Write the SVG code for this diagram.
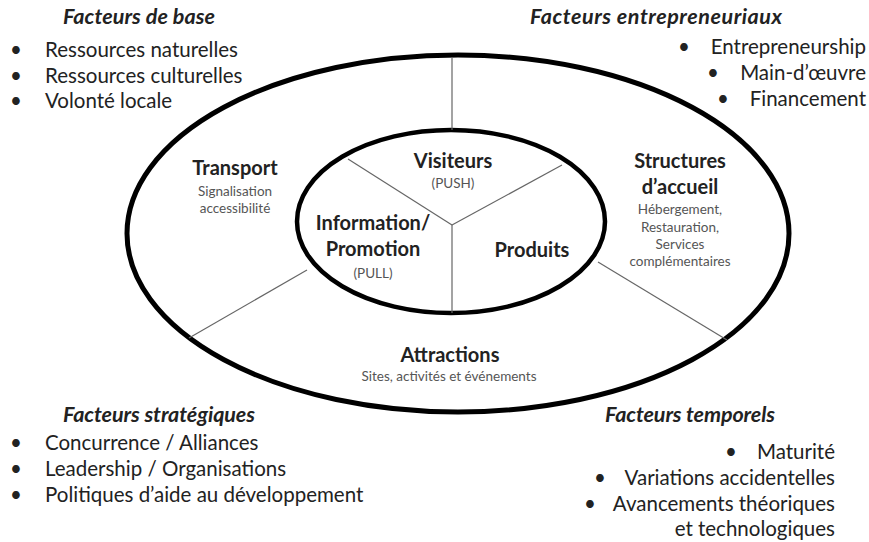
<svg xmlns="http://www.w3.org/2000/svg" width="869" height="542" viewBox="0 0 869 542">
<style>
text{font-family:Lato,"Open Sans","Liberation Sans",sans-serif;fill:#222}
.ttl{font-weight:bold;font-style:italic;font-size:21.5px}
.li{font-size:20.5px}
.nb{font-weight:bold;font-size:20px;text-anchor:middle}
.sm{font-size:13.5px;fill:#555;text-anchor:middle}
.ring{fill:none;stroke:#000}
.sep{stroke:#666;stroke-width:1.2;fill:none}
</style>
<rect width="869" height="542" fill="#fff"/>
<g id="rings">
<ellipse class="ring" cx="458" cy="233.5" rx="331" ry="178.5" stroke-width="5"/>
<ellipse class="ring" cx="451" cy="221.5" rx="154" ry="91.5" stroke-width="4.5"/>
</g>
<g id="connectors">
<line class="sep" x1="452" y1="57" x2="452" y2="130"/>
<line class="sep" x1="452" y1="225" x2="452" y2="313"/>
<line class="sep" x1="452" y1="225" x2="348" y2="159"/>
<line class="sep" x1="452" y1="225" x2="562" y2="165"/>
<line class="sep" x1="307" y1="270" x2="189" y2="338"/>
<line class="sep" x1="598" y1="262" x2="727" y2="340"/>
</g>
<g id="visiteurs">
<text class="nb" x="453" y="168">Visiteurs</text>
<text class="sm" x="453" y="188">(PUSH)</text>
</g>
<g id="information">
<text class="nb" x="373" y="230">Information/</text>
<text class="nb" x="373" y="256">Promotion</text>
<text class="sm" x="373" y="278">(PULL)</text>
</g>
<g id="produits">
<text class="nb" x="532" y="257">Produits</text>
</g>
<g id="transport">
<text class="nb" x="235" y="175">Transport</text>
<text class="sm" x="235" y="196">Signalisation</text>
<text class="sm" x="235" y="213">accessibilité</text>
</g>
<g id="structures">
<text class="nb" x="680" y="168">Structures</text>
<text class="nb" x="680" y="194">d’accueil</text>
<text class="sm" x="680" y="214">Hébergement,</text>
<text class="sm" x="680" y="232">Restauration,</text>
<text class="sm" x="680" y="249">Services</text>
<text class="sm" x="680" y="266">complémentaires</text>
</g>
<g id="attractions">
<text class="nb" x="450" y="362">Attractions</text>
<text class="sm" x="449" y="381">Sites, activités et événements</text>
</g>
<g id="base">
<text class="ttl" x="63" y="24" textLength="152">Facteurs de base</text>
<text class="li" x="10" y="57">•</text><text class="li" x="45" y="57">Ressources naturelles</text>
<text class="li" x="10" y="83">•</text><text class="li" x="45" y="83">Ressources culturelles</text>
<text class="li" x="10" y="108">•</text><text class="li" x="45" y="108">Volonté locale</text>
</g>
<g id="entrepreneuriaux">
<text class="ttl" x="530" y="24" textLength="252">Facteurs entrepreneuriaux</text>
<text class="li" x="678" y="54">•</text><text class="li" x="866" y="54" text-anchor="end">Entrepreneurship</text>
<text class="li" x="707" y="80">•</text><text class="li" x="866" y="80" text-anchor="end">Main-d’œuvre</text>
<text class="li" x="717" y="106">•</text><text class="li" x="866" y="106" text-anchor="end">Financement</text>
</g>
<g id="strategiques">
<text class="ttl" x="63" y="422" textLength="192">Facteurs stratégiques</text>
<text class="li" x="10" y="450">•</text><text class="li" x="45" y="450">Concurrence / Alliances</text>
<text class="li" x="10" y="476">•</text><text class="li" x="45" y="476">Leadership / Organisations</text>
<text class="li" x="10" y="502">•</text><text class="li" x="45" y="502">Politiques d’aide au développement</text>
</g>
<g id="temporels">
<text class="ttl" x="605" y="422" textLength="170">Facteurs temporels</text>
<text class="li" x="725" y="459">•</text><text class="li" x="835" y="459" text-anchor="end">Maturité</text>
<text class="li" x="594" y="485">•</text><text class="li" x="835" y="485" text-anchor="end">Variations accidentelles</text>
<text class="li" x="584" y="511">•</text><text class="li" x="835" y="511" text-anchor="end">Avancements théoriques</text>
<text class="li" x="835" y="536" text-anchor="end">et technologiques</text>
</g>
</svg>
